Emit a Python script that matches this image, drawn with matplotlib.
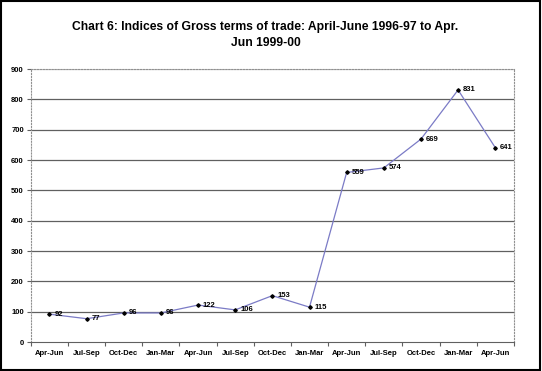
import matplotlib
matplotlib.use('Agg')
import matplotlib.pyplot as plt
import numpy as np

plt.rcParams['font.family'] = ['Liberation Sans', 'DejaVu Sans']

quarters = ['Apr-Jun', 'Jul-Sep', 'Oct-Dec', 'Jan-Mar', 'Apr-Jun', 'Jul-Sep', 'Oct-Dec',
            'Jan-Mar', 'Apr-Jun', 'Jul-Sep', 'Oct-Dec', 'Jan-Mar', 'Apr-Jun']
indices = [92, 77, 96, 96, 122, 106, 153, 115, 559, 574, 669, 831, 641]
yticks = [0, 100, 200, 300, 400, 500, 600, 700, 800, 900]
title = 'Chart 6: Indices of Gross terms of trade: April-June 1996-97 to Apr.\nJun 1999-00'

fig = plt.figure(figsize=(5.42, 3.71), dpi=100)
fig.patch.set_facecolor('white')
# black frame around the whole picture
fig.add_artist(plt.Rectangle((0.002, 0.003), 0.995, 0.994, transform=fig.transFigure,
                             fill=False, edgecolor='black', linewidth=1.5))

ax = fig.add_axes([0.057, 0.078, 0.891, 0.736])
x = np.arange(len(indices))
ax.set_xlim(-0.5, len(indices) - 0.5)
ax.set_ylim(0, 900)

for t in yticks[1:]:
    ax.axhline(t, color='#c0c0c0' if t == 900 else '#606060', lw=0.9, zorder=1)

ax.plot(x, indices, color='#7b7bc6', lw=0.9, zorder=2)
ax.plot(x, indices, ls='none', marker='D', ms=1.8, color='black', zorder=3)

for xi, v in zip(x, indices):
    ax.annotate(str(v), (xi, v), xytext=(3.5, 0), textcoords='offset points',
                fontsize=5.5, fontweight='bold', va='center', ha='left')

ax.set_yticks(yticks)
ax.set_yticklabels([str(t) for t in yticks], fontsize=5.5, fontweight='bold')
ax.set_xticks(np.arange(len(indices) + 1) - 0.5)
ax.set_xticklabels([])
ax.set_xticks(x, minor=True)
ax.set_xticklabels(quarters, minor=True, fontsize=5.5, fontweight='bold')
ax.tick_params(axis='x', which='minor', length=0, pad=6)
ax.tick_params(axis='x', which='major', length=3, color='#606060')
ax.tick_params(axis='y', length=3, pad=2, color='#606060')

for side in ['top', 'right', 'left']:
    ax.spines[side].set_linestyle(':')
    ax.spines[side].set_color('#909090')
    ax.spines[side].set_linewidth(0.8)
ax.spines['bottom'].set_color('#606060')

fig.text(0.49, 0.905, title, ha='center', va='center', fontsize=8.7, fontweight='bold',
         linespacing=1.5)

fig.savefig('out.png', dpi=100)
